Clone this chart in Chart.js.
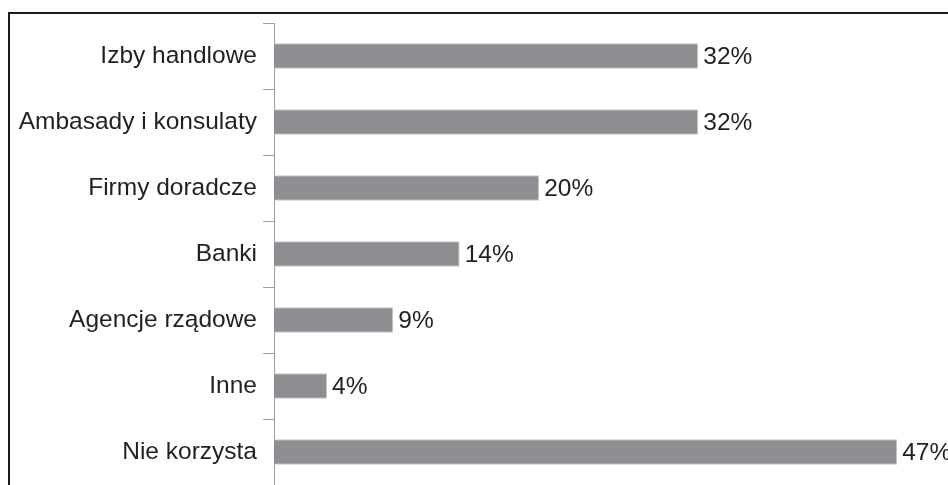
<!DOCTYPE html>
<html>
<head>
<meta charset="utf-8">
<script src="https://cdn.jsdelivr.net/npm/chart.js@4"></script>
<style>
  html, body { margin: 0; padding: 0; background: #fff; overflow: hidden; }
  #wrap { position: relative; width: 948px; height: 485px; }
  #frame { position: absolute; left: 8px; top: 12px; width: 1200px; height: 1200px;
           border-top: 2px solid #1a1a1a; border-left: 2px solid #1a1a1a; }
  #myChart { position: absolute; left: 0; top: 0; }
</style>
</head>
<body>
<div id="wrap">
  <div id="frame"></div>
  <canvas id="myChart" width="948" height="485"></canvas>
</div>
<script>
// dane z wykresu
var categories = ["Izby handlowe", "Ambasady i konsulaty", "Firmy doradcze", "Banki", "Agencje rządowe", "Inne", "Nie korzysta"];
var values = [32, 32, 20, 14, 9, 4, 47];
var valueLabels = ["32%", "32%", "20%", "14%", "9%", "4%", "47%"];

var fontFamily = "'Liberation Sans', Arial, Helvetica, sans-serif";

// etykiety wartości za końcem słupka
var barLabels = {
    id: "barLabels",
    afterDatasetsDraw: function(chart) {
        var ctx = chart.ctx;
        var meta = chart.getDatasetMeta(0);
        ctx.save();
        ctx.font = "24.5px " + fontFamily;
        ctx.fillStyle = "#231f20";
        ctx.textAlign = "left";
        ctx.textBaseline = "middle";
        meta.data.forEach(function(bar, i) {
            ctx.fillText(valueLabels[i], bar.x + 5, bar.y + 1);
        });
        ctx.restore();
    }
};

new Chart("myChart", {
    type: "bar",
    data: {
        labels: categories,
        datasets: [{
            data: values,
            backgroundColor: "#8d8e91",
            borderColor: "#c8c8c8",
            borderWidth: 1,
            categoryPercentage: 1,
            barPercentage: 0.39
        }]
    },
    options: {
        indexAxis: "y",
        responsive: false,
        animation: false,
        layout: { padding: { top: 23, bottom: 0, left: 0, right: 11 } },
        plugins: {
            legend: { display: false },
            tooltip: { enabled: false }
        },
        scales: {
            x: {
                display: false,
                min: 0,
                max: 50
            },
            y: {
                afterFit: function(scale) {
                    scale.width = 274;
                    scale.paddingTop = 0;
                    scale.paddingBottom = 0;
                },
                grid: {
                    offset: true,
                    drawOnChartArea: false,
                    drawTicks: true,
                    tickLength: 11,
                    color: "#a0a0a0"
                },
                border: { display: true, color: "#a0a0a0", width: 1 },
                ticks: {
                    padding: 6,
                    color: "#231f20",
                    font: { family: fontFamily, size: 24.5 }
                }
            }
        }
    },
    plugins: [barLabels]
});
</script>
</body>
</html>
